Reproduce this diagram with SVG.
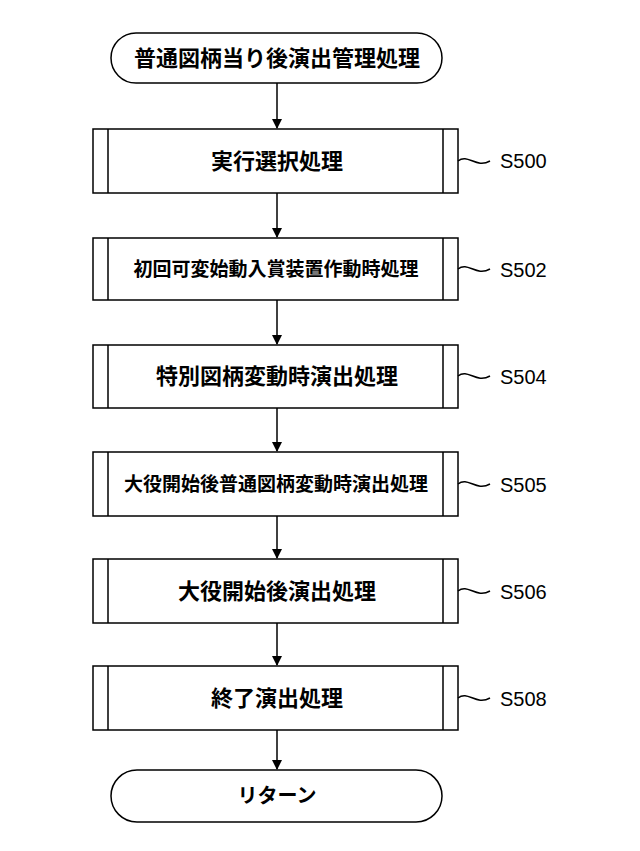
<svg xmlns="http://www.w3.org/2000/svg" width="640" height="851" viewBox="0 0 640 851">
<defs>
<style>
.s{fill:#fff;stroke:#000;stroke-width:1.5}
.l{stroke:#000;stroke-width:1.5;fill:none}
text{font-family:"Noto Sans CJK JP","Liberation Sans",sans-serif;fill:#000;text-anchor:middle;font-weight:bold}
.lab{font-family:"Liberation Sans",sans-serif;font-size:20px;text-anchor:start;font-weight:normal}
</style>
<marker id="a" markerWidth="10" markerHeight="10" refX="9" refY="5" orient="auto" markerUnits="userSpaceOnUse"><path d="M0,0 L10,5 L0,10 z" fill="#000"/></marker>
</defs>
<rect width="640" height="851" fill="#fff"/>
<g id="connectors">
<line class="l" x1="277" y1="83" x2="277" y2="128" marker-end="url(#a)"/>
<line class="l" x1="277" y1="193" x2="277" y2="237" marker-end="url(#a)"/>
<line class="l" x1="277" y1="300" x2="277" y2="344" marker-end="url(#a)"/>
<line class="l" x1="277" y1="408" x2="277" y2="451" marker-end="url(#a)"/>
<line class="l" x1="277" y1="516" x2="277" y2="558" marker-end="url(#a)"/>
<line class="l" x1="277" y1="623" x2="277" y2="665" marker-end="url(#a)"/>
<line class="l" x1="277" y1="730" x2="277" y2="769" marker-end="url(#a)"/>
</g>
<g id="start"><rect class="s" x="111" y="33" width="331" height="50" rx="25"/><text x="277" y="66" font-size="22">普通図柄当り後演出管理処理</text></g>
<g id="S500"><rect class="s" x="93" y="129" width="365" height="64"/><path class="l" d="M108,129V193M443,129V193M458,161c10,-8 18,8 32,0"/><text x="277" y="169" font-size="22">実行選択処理</text><text class="lab" x="500" y="168">S500</text></g>
<g id="S502"><rect class="s" x="93" y="238" width="365" height="62"/><path class="l" d="M108,238V300M443,238V300M458,269c10,-8 18,8 32,0"/><text x="276" y="276" font-size="19">初回可変始動入賞装置作動時処理</text><text class="lab" x="500" y="277">S502</text></g>
<g id="S504"><rect class="s" x="93" y="345" width="365" height="63"/><path class="l" d="M108,345V408M443,345V408M458,376c10,-8 18,8 32,0"/><text x="277" y="384" font-size="22">特別図柄変動時演出処理</text><text class="lab" x="500" y="384">S504</text></g>
<g id="S505"><rect class="s" x="93" y="452" width="365" height="64"/><path class="l" d="M108,452V516M443,452V516M458,484c10,-8 18,8 32,0"/><text x="276" y="491" font-size="19">大役開始後普通図柄変動時演出処理</text><text class="lab" x="500" y="492">S505</text></g>
<g id="S506"><rect class="s" x="93" y="559" width="365" height="64"/><path class="l" d="M108,559V623M443,559V623M458,591c10,-8 18,8 32,0"/><text x="277" y="599" font-size="22">大役開始後演出処理</text><text class="lab" x="500" y="599">S506</text></g>
<g id="S508"><rect class="s" x="93" y="666" width="365" height="64"/><path class="l" d="M108,666V730M443,666V730M458,698c10,-8 18,8 32,0"/><text x="277" y="706" font-size="22">終了演出処理</text><text class="lab" x="500" y="706">S508</text></g>
<g id="end"><rect class="s" x="111" y="770" width="331" height="52" rx="26"/><text x="277" y="803" font-size="20">リターン</text></g>
</svg>
